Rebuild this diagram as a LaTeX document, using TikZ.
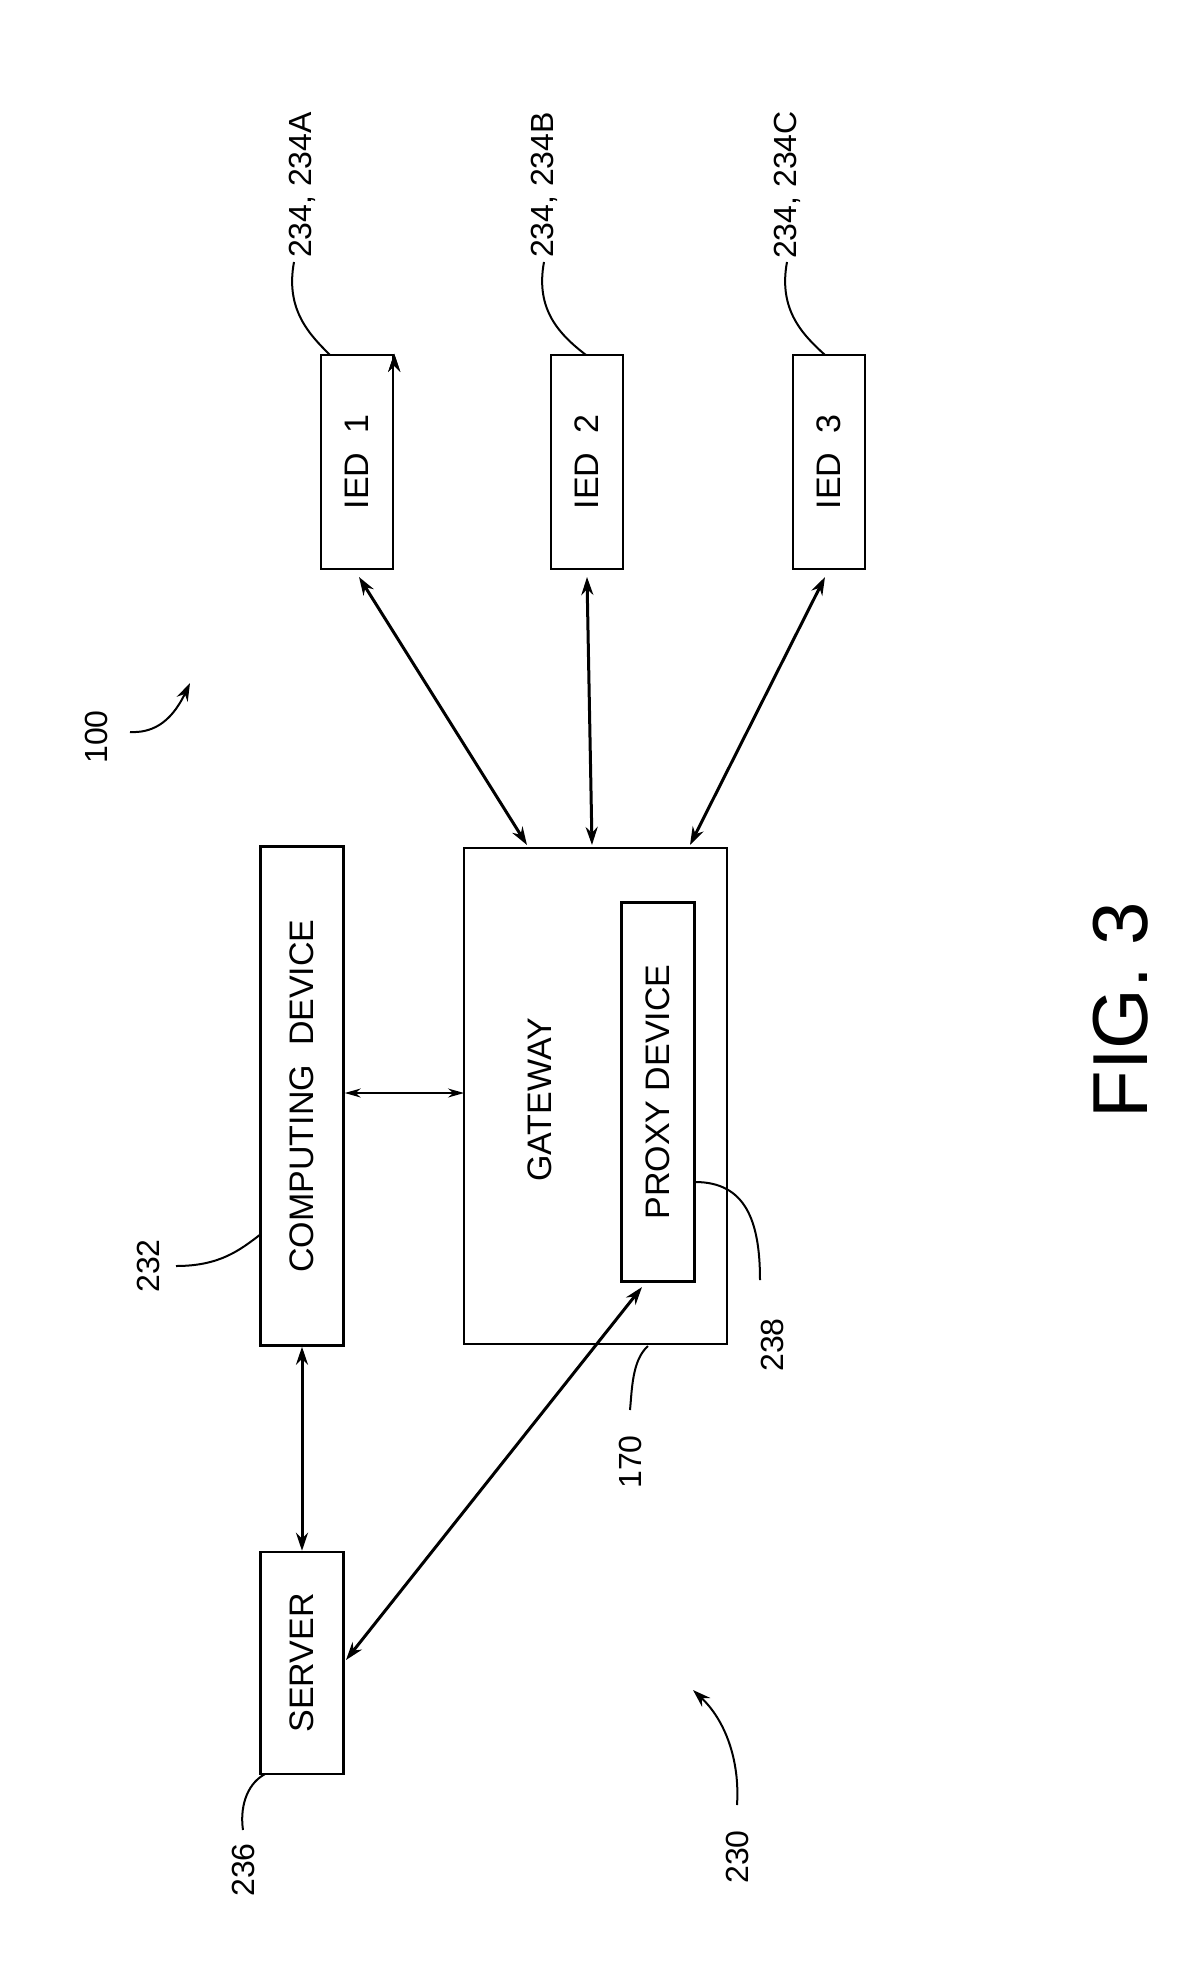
\documentclass[tikz,border=0pt]{standalone}
\usepackage{fontspec}
\setmainfont{Liberation Sans}
\usetikzlibrary{arrows.meta}
\tikzset{
  box/.style={draw, line width=2.5pt, rotate=90, inner sep=0pt, font=\fontsize{34}{34}\selectfont},
  num/.style={rotate=90, font=\fontsize{32}{32}\selectfont},
  link/.style={line width=3pt, {Stealth[length=18pt,width=12pt]}-{Stealth[length=18pt,width=12pt]}},
  lead/.style={line width=2pt},
}
\begin{document}
\begin{tikzpicture}[x=1pt,y=-1pt]
\useasboundingbox (0,0) rectangle (1184,1980);

\node [box, minimum width=214pt, minimum height=72pt] (ied1) at (357,462) {IED\ \ 1};
\node [box, minimum width=214pt, minimum height=72pt] (ied2) at (587,462) {IED\ \ 2};
\node [box, minimum width=214pt, minimum height=72pt] (ied3) at (829,462) {IED\ \ 3};
\node [box, minimum width=499pt, minimum height=83pt] (comp) at (302,1096) {COMPUTING\ \ DEVICE};
\draw [line width=2.5pt] (464,848) rectangle (727,1344);
\coordinate (gwtop1) at (527,845);
\coordinate (gwtop2) at (592,845);
\coordinate (gwtop3) at (690,845);
\coordinate (gwleft) at (464,1093);
\node [num, font=\fontsize{34}{34}\selectfont] (gw) at (540,1100) {GATEWAY};
\node [box, minimum width=379pt, minimum height=73pt] (proxy) at (658,1092) {PROXY DEVICE};
\node [box, minimum width=222pt, minimum height=83pt] (srv) at (302,1663) {SERVER};

\draw [link] (ied1.south east) ++(0,0) coordinate (a1);
\draw [link] (359,577) -- (gwtop1);
\draw [link] (587,577) -- (gwtop2);
\draw [link] (825,577) -- (gwtop3);
\draw [line width=1.5pt, {Stealth[length=16pt,width=9pt]}-{Stealth[length=16pt,width=9pt]}] (comp.south|-gwleft) -- (gwleft);
\draw [link] (comp.west) -- (srv.east);
\draw [link] (346,1660) -- (642,1287);

% labels
\node [num] (l234a) at (302,185) {234, 234A};
\node [num] (l234b) at (544,185) {234, 234B};
\node [num] (l234c) at (787,185) {234, 234C};
\draw [lead] (294,262) .. controls (285,310) and (310,335) .. (330,355);
\draw [lead] (544,262) .. controls (535,310) and (560,335) .. (586,355);
\draw [lead] (787,262) .. controls (778,310) and (803,335) .. (825,355);

\node [num] (l100) at (96,737) {100};
\draw [line width=2pt, -{Stealth[length=18pt,width=12pt]}] (130,732) .. controls (150,733) and (170,725) .. (190,683);

\node [num] (l232) at (148,1266) {232};
\draw [lead] (176,1266) .. controls (220,1266) and (240,1250) .. (261,1234);

\node [num] (l238) at (772,1345) {238};
\draw [lead] (695,1182) .. controls (745,1182) and (760,1220) .. (760,1280);

\node [num] (l170) at (630,1462) {170};
\draw [lead] (648,1346) .. controls (632,1360) and (632,1390) .. (630,1410);

\node [num] (l236) at (243,1870) {236};
\draw [lead] (265,1774) .. controls (245,1785) and (240,1810) .. (243,1830);

\node [num] (l230) at (737,1857) {230};
\draw [line width=2pt, -{Stealth[length=18pt,width=12pt]}] (737,1805) .. controls (740,1760) and (725,1720) .. (693,1690);

\node [num, font=\fontsize{78}{78}\selectfont] (fig) at (1121,1010) {FIG. 3};
\end{tikzpicture}
\end{document}
